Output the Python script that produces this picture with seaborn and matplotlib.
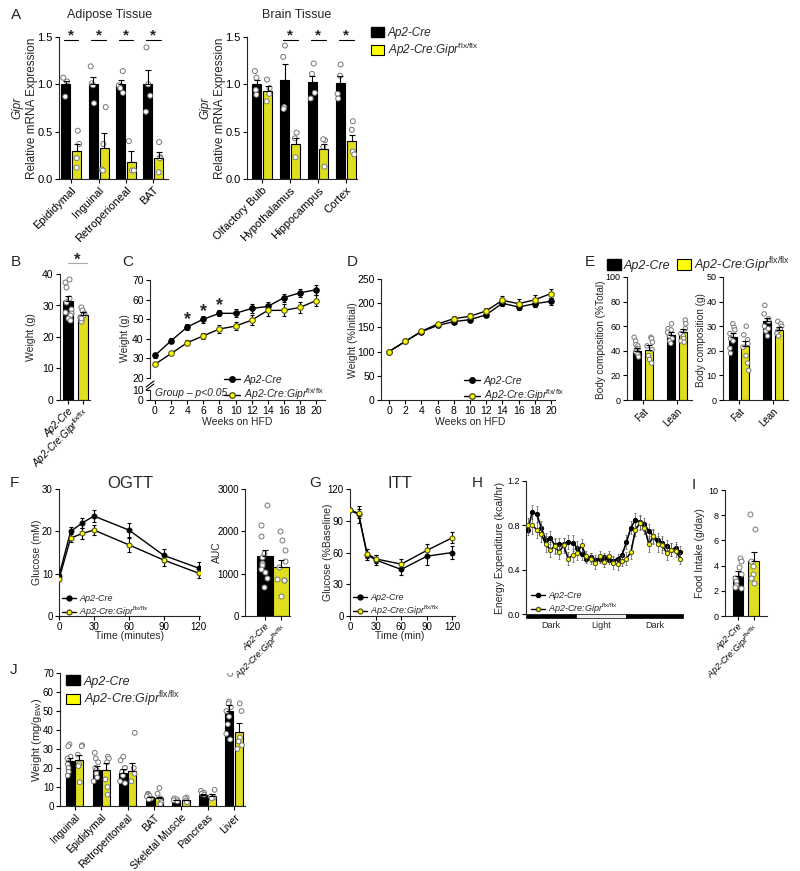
import numpy as np
import pandas as pd
import matplotlib
matplotlib.use("Agg")
import matplotlib.pyplot as plt
import matplotlib.transforms as mtransforms
from matplotlib.lines import Line2D
from matplotlib.patches import Patch, Rectangle
from matplotlib.ticker import FormatStrFormatter
import seaborn as sns

np.random.seed(7)

# ---------------- data ----------------
CRE_LABEL = "Ap2-Cre"
KO_LABEL = "Ap2-Cre:Gipr$^{\\rm flx/flx}$"
GENO = ["Cre", "KO"]
YELLOW = "#FFFF00"
PAL = {"Cre": "black", "KO": YELLOW}

# A - adipose
adipose_cats = ["Epididymal", "Inguinal", "Retroperioneal", "BAT"]
adipose_cre_mean = [1.00, 1.00, 1.00, 1.00]
adipose_cre_sem = [0.04, 0.08, 0.05, 0.15]
adipose_ko_mean = [0.30, 0.33, 0.18, 0.22]
adipose_ko_sem = [0.07, 0.16, 0.12, 0.07]
adipose_cre_pts = [[1.07, 1.03, 0.87], [1.19, 1.01, 0.99, 0.80], [1.14, 0.99, 0.96, 0.91], [1.39, 1.00, 0.88, 0.71]]
adipose_ko_pts = [[0.51, 0.37, 0.22, 0.12], [0.76, 0.37, 0.10, 0.09], [0.40, 0.09, 0.09], [0.39, 0.23, 0.22, 0.07]]

# A - brain
brain_cats = ["Olfactory Bulb", "Hypothalamus", "Hippocampus", "Cortex"]
brain_cre_mean = [1.00, 1.05, 1.02, 1.01]
brain_cre_sem = [0.05, 0.17, 0.07, 0.08]
brain_ko_mean = [0.93, 0.37, 0.32, 0.40]
brain_ko_sem = [0.05, 0.06, 0.05, 0.07]
brain_cre_pts = [[1.14, 1.07, 0.94, 0.89], [1.41, 1.29, 0.76, 0.74], [1.22, 1.11, 0.91, 0.85], [1.21, 1.09, 0.90, 0.85]]
brain_ko_pts = [[1.05, 0.96, 0.90, 0.82], [0.49, 0.43, 0.23], [0.41, 0.42, 0.34, 0.13], [0.61, 0.52, 0.29, 0.26]]

# B - body weight
b_mean = [31.5, 27.0]
b_sem = [1.5, 0.8]
b_cre_pts = [38.5, 37.5, 36.0, 32.5, 31.0, 29.0, 27.5, 27.0, 26.0, 25.5, 28.0]
b_ko_pts = [29.5, 28.5, 27.5, 27.0, 26.5, 25.5, 25.0, 26.0]

# C - weight over time
weeks = [0, 2, 4, 6, 8, 10, 12, 14, 16, 18, 20]
c_cre = [31.5, 39.0, 46.0, 50.0, 53.0, 53.0, 55.5, 56.5, 61.0, 63.5, 65.0]
c_cre_sem = [1.3, 1.3, 1.5, 1.8, 1.5, 2.0, 2.3, 2.5, 2.0, 2.0, 2.5]
c_ko = [27.0, 32.5, 38.0, 41.5, 45.0, 46.5, 49.5, 54.5, 54.5, 56.0, 59.5]
c_ko_sem = [1.0, 1.0, 1.3, 1.5, 2.0, 2.0, 2.5, 3.0, 3.0, 3.0, 3.0]
c_star_weeks = [4, 6, 8]
c_star_y = [47.5, 51.5, 54.5]

# D - % initial weight
d_cre = [100, 121, 141, 154, 162, 166, 176, 200, 192, 199, 204]
d_cre_sem = [2, 3, 4, 4, 5, 5, 5, 6, 6, 7, 7]
d_ko = [100, 121, 142, 157, 168, 173, 184, 206, 199, 207, 220]
d_ko_sem = [2, 3, 4, 5, 6, 7, 7, 8, 9, 10, 10]

# E - body composition
e_cats = ["Fat", "Lean"]
e_pct_cre_mean = [40.0, 53.0]
e_pct_cre_sem = [2.5, 2.0]
e_pct_ko_mean = [41.0, 55.0]
e_pct_ko_sem = [3.5, 2.5]
e_pct_cre_pts = [[51, 48, 45, 44, 42, 41, 39, 37, 35], [62, 58, 57, 55, 52, 50, 48, 46]]
e_pct_ko_pts = [[51, 50, 47, 44, 41, 36, 33, 30], [65, 62, 58, 54, 52, 50, 48, 47]]
e_g_cre_mean = [25.5, 32.0]
e_g_cre_sem = [1.7, 1.5]
e_g_ko_mean = [22.0, 28.5]
e_g_ko_sem = [2.0, 1.0]
e_g_cre_pts = [[31, 29.5, 28.5, 27, 25, 24, 21, 19], [38.5, 35, 33, 32, 30, 28, 26, 29]]
e_g_ko_pts = [[30, 26.5, 24.5, 23, 21.5, 18, 15, 12], [32, 31, 30, 29, 28, 27, 26]]

# F - OGTT
ogtt_t = [0, 10, 20, 30, 60, 90, 120]
ogtt_cre = [9.5, 20.0, 22.0, 23.6, 20.3, 14.3, 11.3]
ogtt_cre_sem = [0.5, 1.0, 1.2, 1.4, 1.6, 1.5, 1.4]
ogtt_ko = [8.7, 18.4, 19.5, 20.3, 16.8, 13.2, 10.1]
ogtt_ko_sem = [0.5, 1.0, 1.3, 1.2, 1.7, 1.5, 1.2]
auc_mean = [1420, 1150]
auc_sem = [150, 170]
auc_cre_pts = [2630, 2160, 1900, 1480, 1260, 1200, 1100, 1050, 900, 680, 1400]
auc_ko_pts = [2000, 1800, 1560, 1300, 1150, 880, 860, 840, 470]

# G - ITT
itt_t = [0, 10, 20, 30, 60, 90, 120]
itt_cre = [100, 96, 58, 53, 44, 56.5, 60]
itt_cre_sem = [0, 8, 5, 5, 5, 8, 6]
itt_ko = [100, 97, 59, 54, 49, 62, 74]
itt_ko_sem = [0, 4, 4, 4, 5, 6, 5]

# H - energy expenditure
ee_idx = list(range(35))
ee_cre = [0.76, 0.92, 0.90, 0.78, 0.67, 0.69, 0.62, 0.63, 0.63, 0.65, 0.64, 0.60, 0.54, 0.50, 0.51, 0.49, 0.50, 0.51,
          0.49, 0.48, 0.50, 0.53, 0.65, 0.78, 0.85, 0.83, 0.81, 0.75, 0.70, 0.67, 0.64, 0.61, 0.58, 0.60, 0.56]
ee_ko = [0.80, 0.80, 0.76, 0.72, 0.63, 0.58, 0.61, 0.56, 0.62, 0.50, 0.53, 0.55, 0.62, 0.52, 0.50, 0.46, 0.52, 0.47,
         0.52, 0.46, 0.45, 0.48, 0.50, 0.56, 0.76, 0.82, 0.78, 0.63, 0.70, 0.63, 0.62, 0.55, 0.58, 0.57, 0.50]
ee_cre_sem = [0.05, 0.06, 0.07, 0.06, 0.06, 0.06, 0.07, 0.06, 0.06, 0.06, 0.07, 0.06, 0.05, 0.04, 0.04, 0.04, 0.04, 0.04,
              0.04, 0.04, 0.04, 0.05, 0.06, 0.06, 0.06, 0.06, 0.06, 0.06, 0.06, 0.06, 0.06, 0.06, 0.06, 0.05, 0.05]
ee_ko_sem = [0.07, 0.08, 0.07, 0.07, 0.07, 0.07, 0.07, 0.06, 0.07, 0.06, 0.06, 0.06, 0.06, 0.05, 0.05, 0.05, 0.05, 0.05,
             0.05, 0.05, 0.05, 0.05, 0.06, 0.06, 0.06, 0.06, 0.06, 0.07, 0.07, 0.07, 0.07, 0.06, 0.06, 0.06, 0.05]
ee_phase = ["Dark", "Light", "Dark"]
ee_phase_bounds = [-0.4, 10.8, 21.9, 34.6]

# I - food intake
i_mean = [3.2, 4.4]
i_sem = [0.4, 0.7]
i_cre_pts = [4.6, 4.4, 3.9, 3.3, 3.0, 2.8, 2.5, 2.3, 2.2]
i_ko_pts = [8.1, 6.9, 4.4, 4.0, 3.3, 3.0, 2.6]

# J - tissue weights
j_cats = ["Inguinal", "Epididymal", "Retroperitoneal", "BAT", "Skeletal Muscle", "Pancreas", "Liver"]
j_cre_mean = [23.5, 19.0, 17.5, 4.5, 3.0, 6.0, 50.0]
j_cre_sem = [2.0, 1.8, 2.0, 0.5, 0.3, 0.5, 3.0]
j_ko_mean = [24.0, 19.0, 18.5, 4.0, 3.0, 5.5, 39.0]
j_ko_sem = [3.0, 3.5, 4.0, 1.0, 0.4, 0.8, 4.5]
j_cre_pts = [[32.5, 31.5, 26, 25, 22, 20, 18, 16], [28, 25, 23, 20, 19, 17, 15, 13], [26, 24, 20, 20, 18, 16, 13, 12],
             [6.5, 6, 5.5, 5, 4, 3.5], [4, 3.5, 3, 2.5], [8, 7, 6.5, 6], [69.5, 55, 54, 52, 50, 47, 43, 38, 35]]
j_ko_pts = [[32, 31.5, 27, 22, 21, 12.5], [26, 25, 23, 14, 10, 6], [38.5, 20, 17, 13], [9.5, 6.5, 4, 2, 1],
            [4.5, 4, 3, 2], [8.5, 5, 4.5, 4], [54, 50, 36, 34, 32, 30]]

# ---------------- style ----------------
sns.set_style("ticks")
plt.rcParams["font.family"] = ["Liberation Sans", "DejaVu Sans"]
plt.rcParams["mathtext.fontset"] = "custom"
plt.rcParams["mathtext.rm"] = "Liberation Sans"
plt.rcParams["mathtext.it"] = "Liberation Sans:italic"
plt.rcParams["mathtext.bf"] = "Liberation Sans:bold"
plt.rcParams["axes.linewidth"] = 0.8

W, H = 800, 871
fig = plt.figure(figsize=(W / 100, H / 100), dpi=100)


def pax(l, t, r, b, ts=7.5):
    ax = fig.add_axes([l / W, 1 - b / H, (r - l) / W, (b - t) / H])
    sns.despine(ax=ax)
    ax.tick_params(direction="out", length=3, width=0.8, pad=1.5, labelsize=ts, colors="black")
    ax.set_facecolor("none")
    return ax


def ftext(x, y, s, **kw):
    kw.setdefault("ha", "center")
    kw.setdefault("va", "center")
    return fig.text(x / W, 1 - y / H, s, **kw)


def fleg(ax, handles, labels, x, y, size, **kw):
    return ax.legend(handles, labels, loc="upper left", bbox_to_anchor=(x / W, 1 - y / H),
                     bbox_transform=fig.transFigure, frameon=False, borderaxespad=0, borderpad=0,
                     prop={"style": "italic", "size": size}, **kw)


def grouped_bars(ax, cats, cm, ce, km, ke, cpts, kpts, width=0.8, gap=0.18, size=3.6, jitter=0.2):
    n = len(cats)
    df = pd.DataFrame({"cat": list(cats) * 2, "geno": ["Cre"] * n + ["KO"] * n, "val": list(cm) + list(km)})
    sns.barplot(data=df, x="cat", y="val", hue="geno", order=cats, hue_order=GENO, palette=PAL,
                width=width, gap=gap, edgecolor="black", linewidth=0.8, errorbar=None, legend=False,
                ax=ax, zorder=1)
    for p, e in zip(ax.patches, list(ce) + list(ke)):
        xc = p.get_x() + p.get_width() / 2
        ax.errorbar(xc, p.get_height(), yerr=[[0], [e]], fmt="none", ecolor="black",
                    elinewidth=0.8, capsize=2, capthick=0.8, zorder=3)
    rows = []
    for c, pts in zip(cats, cpts):
        rows += [(c, "Cre", v) for v in pts]
    for c, pts in zip(cats, kpts):
        rows += [(c, "KO", v) for v in pts]
    pdf = pd.DataFrame(rows, columns=["cat", "geno", "val"])
    sns.stripplot(data=pdf, x="cat", y="val", hue="geno", order=cats, hue_order=GENO, dodge=True,
                  jitter=jitter, palette={"Cre": "white", "KO": "white"}, edgecolor="#777777",
                  linewidth=0.7, size=size, legend=False, ax=ax, zorder=2)
    ax.set_xlabel("")
    ax.set_ylabel("")


def pair_bars(ax, means, sems, cpts, kpts, width=0.67, size=3.6, jitter=0.25):
    cats = ["Cre", "KO"]
    df = pd.DataFrame({"cat": cats, "val": means})
    sns.barplot(data=df, x="cat", y="val", hue="cat", order=cats, hue_order=cats, palette=PAL,
                width=width, edgecolor="black", linewidth=0.8, errorbar=None, legend=False, ax=ax, zorder=1)
    for p, e in zip(ax.patches, sems):
        xc = p.get_x() + p.get_width() / 2
        ax.errorbar(xc, p.get_height(), yerr=[[0], [e]], fmt="none", ecolor="black",
                    elinewidth=0.8, capsize=2, capthick=0.8, zorder=3)
    rows = [("Cre", v) for v in cpts] + [("KO", v) for v in kpts]
    pdf = pd.DataFrame(rows, columns=["cat", "val"])
    sns.stripplot(data=pdf, x="cat", y="val", order=cats, color="white", edgecolor="#777777",
                  linewidth=0.7, size=size, jitter=jitter, ax=ax, zorder=2)
    ax.set_xlabel("")
    ax.set_ylabel("")
    ax.set_xticks([0, 1])


def two_lines(ax, x, cm, ce, km, ke, ms=4.0, lw=1.0, cap=1.5, elw=0.8, ecol="black"):
    ax.errorbar(x, cm, yerr=ce, fmt="none", ecolor=ecol, elinewidth=elw, capsize=cap, capthick=elw, zorder=2)
    sns.lineplot(x=x, y=cm, color="black", lw=lw, marker="o", markersize=ms, markerfacecolor="black",
                 markeredgecolor="black", ax=ax, zorder=3)
    ax.errorbar(x, km, yerr=ke, fmt="none", ecolor=ecol, elinewidth=elw, capsize=cap, capthick=elw, zorder=4)
    sns.lineplot(x=x, y=km, color="black", lw=lw, marker="o", markersize=ms, markerfacecolor=YELLOW,
                 markeredgecolor="#555522", markeredgewidth=0.8, ax=ax, zorder=5)
    ax.set_xlabel("")
    ax.set_ylabel("")


def line_handles(ms=4.0):
    h1 = Line2D([], [], color="black", lw=1.0, marker="o", ms=ms, mfc="black", mec="black")
    h2 = Line2D([], [], color="black", lw=1.0, marker="o", ms=ms, mfc=YELLOW, mec="#555522")
    return [h1, h2]


def bar_handles():
    return [Patch(facecolor="black", edgecolor="black"), Patch(facecolor=YELLOW, edgecolor="black", lw=0.8)]


def sig(ax, x, y, half=0.27, fs=11, color="black"):
    ax.plot([x - half, x + half], [y, y], color=color, lw=0.8, clip_on=False)
    ax.text(x, y, "*", ha="center", va="baseline", fontsize=fs, fontweight="bold", clip_on=False)


# ---------------- A ----------------
ftext(16, 15, "A", fontsize=11)
axA1 = pax(59, 37, 168, 179, ts=8)
grouped_bars(axA1, adipose_cats, adipose_cre_mean, adipose_cre_sem, adipose_ko_mean, adipose_ko_sem,
             adipose_cre_pts, adipose_ko_pts)
axA1.set_ylim(0, 1.5)
axA1.set_yticks([0, 0.5, 1.0, 1.5])
axA1.yaxis.set_major_formatter(FormatStrFormatter("%.1f"))
axA1.set_xlim(-0.44, 3.53)
axA1.set_xticks(range(4))
axA1.set_xticklabels(adipose_cats, rotation=45, ha="right", rotation_mode="anchor", fontsize=8)
for i in range(4):
    sig(axA1, i, 1.47)
ftext(110, 15, "Adipose Tissue", fontsize=9)
ftext(32, 108, "Relative mRNA Expression", rotation=90, fontsize=8.5)
ftext(17, 108, "Gipr", rotation=90, fontsize=8.5, style="italic")

axA2 = pax(247, 37, 357, 179, ts=8)
grouped_bars(axA2, brain_cats, brain_cre_mean, brain_cre_sem, brain_ko_mean, brain_ko_sem,
             brain_cre_pts, brain_ko_pts)
axA2.set_ylim(0, 1.5)
axA2.set_yticks([0, 0.5, 1.0, 1.5])
axA2.yaxis.set_major_formatter(FormatStrFormatter("%.1f"))
axA2.set_xlim(-0.54, 3.39)
axA2.set_xticks(range(4))
axA2.set_xticklabels(brain_cats, rotation=45, ha="right", rotation_mode="anchor", fontsize=8)
for i in range(1, 4):
    sig(axA2, i, 1.47)
ftext(297, 15, "Brain Tissue", fontsize=9)
ftext(220, 108, "Relative mRNA Expression", rotation=90, fontsize=8.5)
ftext(205, 108, "Gipr", rotation=90, fontsize=8.5, style="italic")
fleg(axA2, bar_handles(), [CRE_LABEL, KO_LABEL], 371, 27, 8.5, handlelength=1.1, handleheight=0.9,
     handletextpad=0.3, labelspacing=0.15)

# ---------------- B ----------------
ftext(16, 262, "B", fontsize=11)
axB = pax(60, 274, 90, 400, ts=7.5)
pair_bars(axB, b_mean, b_sem, b_cre_pts, b_ko_pts)
axB.set_ylim(0, 40)
axB.set_yticks([0, 10, 20, 30, 40])
axB.set_xlim(-0.53, 1.5)
axB.set_xticklabels([CRE_LABEL, KO_LABEL], rotation=45, ha="right", rotation_mode="anchor",
                    fontsize=7, style="italic")
axB.plot([0.0, 1.3], [43.5, 43.5], color="#aaaaaa", lw=0.8, clip_on=False)
axB.text(0.65, 43.0, "*", ha="center", va="baseline", fontsize=12, fontweight="bold")
ftext(31, 337, "Weight (g)", rotation=90, fontsize=7.5)

# ---------------- C ----------------
ftext(128, 262, "C", fontsize=11)
axC = pax(150, 280, 325, 378, ts=7.5)
axC2 = pax(150, 390, 325, 400, ts=7.5)
two_lines(axC, weeks, c_cre, c_cre_sem, c_ko, c_ko_sem)
axC.set_ylim(20, 70)
axC.set_yticks([20, 30, 40, 50, 60, 70])
axC.set_xlim(-0.62, 21.1)
axC.spines["bottom"].set_visible(False)
axC.tick_params(axis="x", bottom=False, labelbottom=False)
axC2.set_xlim(-0.62, 21.1)
axC2.set_ylim(0, 10)
axC2.set_yticks([0, 10])
axC2.set_xticks(weeks)
for wk, yy in zip(c_star_weeks, c_star_y):
    axC.text(wk, yy, "*", ha="center", va="baseline", fontsize=13, fontweight="bold")
for dy in (0, 3):
    fig.add_artist(Line2D([146 / W, 154 / W], [1 - (387 + dy) / H, 1 - (381 + dy) / H], color="black", lw=0.8))
ftext(155, 393, "Group – p<0.05", fontsize=7.5, style="italic", ha="left")
fleg(axC, line_handles(), [CRE_LABEL, KO_LABEL], 224, 375, 7.5, handlelength=1.5, handletextpad=0.4,
     labelspacing=0.15)
ftext(237, 422, "Weeks on HFD", fontsize=7.5)
ftext(125, 338, "Weight (g)", rotation=90, fontsize=7.5)

# ---------------- D ----------------
ftext(352, 262, "D", fontsize=11)
axD = pax(381, 279, 555, 400, ts=7.5)
two_lines(axD, weeks, d_cre, d_cre_sem, d_ko, d_ko_sem)
axD.set_ylim(0, 250)
axD.set_yticks([0, 50, 100, 150, 200, 250])
axD.set_xlim(-0.99, 20.5)
axD.set_xticks(weeks)
fleg(axD, line_handles(), [CRE_LABEL, KO_LABEL], 464, 376, 7.5, handlelength=1.5, handletextpad=0.4,
     labelspacing=0.15)
ftext(470, 422, "Weeks on HFD", fontsize=7.5)
ftext(353, 340, "Weight (%Initial)", rotation=90, fontsize=7.5)

# ---------------- E ----------------
ftext(590, 262, "E", fontsize=11)
axE1 = pax(627, 277, 692, 400, ts=6.5)
grouped_bars(axE1, e_cats, e_pct_cre_mean, e_pct_cre_sem, e_pct_ko_mean, e_pct_ko_sem,
             e_pct_cre_pts, e_pct_ko_pts, width=0.72, gap=0.3, size=3.2, jitter=0.18)
axE1.set_ylim(0, 100)
axE1.set_yticks([0, 20, 40, 60, 80, 100])
axE1.set_xlim(-0.47, 1.44)
axE1.set_xticks([0, 1])
axE1.set_xticklabels(e_cats, rotation=45, ha="right", rotation_mode="anchor", fontsize=7)
ftext(601, 340, "Body composition (%Total)", rotation=90, fontsize=7.2)

axE2 = pax(723, 277, 788, 400, ts=6.5)
grouped_bars(axE2, e_cats, e_g_cre_mean, e_g_cre_sem, e_g_ko_mean, e_g_ko_sem,
             e_g_cre_pts, e_g_ko_pts, width=0.72, gap=0.3, size=3.2, jitter=0.18)
axE2.set_ylim(0, 50)
axE2.set_yticks([0, 10, 20, 30, 40, 50])
axE2.set_xlim(-0.47, 1.44)
axE2.set_xticks([0, 1])
axE2.set_xticklabels(e_cats, rotation=45, ha="right", rotation_mode="anchor", fontsize=7)
ftext(701, 340, "Body composition (g)", rotation=90, fontsize=7.2)
fleg(axE1, bar_handles(), [CRE_LABEL, KO_LABEL], 607, 255, 9, ncol=2, handlelength=1.1, handleheight=0.9,
     handletextpad=0.2, columnspacing=0.6)

# ---------------- F ----------------
ftext(14, 483, "F", fontsize=11)
ftext(130, 483, "OGTT", fontsize=12)
axF = pax(59, 489, 200, 616, ts=7)
two_lines(axF, ogtt_t, ogtt_cre, ogtt_cre_sem, ogtt_ko, ogtt_ko_sem, ms=3.5)
axF.set_ylim(0, 30)
axF.set_yticks([0, 10, 20, 30])
axF.set_xlim(0, 121)
axF.set_xticks([0, 30, 60, 90, 120])
fleg(axF, line_handles(3.5), [CRE_LABEL, KO_LABEL], 62, 594, 6.5, handlelength=1.5, handletextpad=0.4,
     labelspacing=0.15)
ftext(130, 636, "Time (minutes)", fontsize=7.5)
ftext(37, 552, "Glucose (mM)", rotation=90, fontsize=7.5)

axAUC = pax(245, 489, 290, 616, ts=7)
pair_bars(axAUC, auc_mean, auc_sem, auc_cre_pts, auc_ko_pts, width=0.95, jitter=0.25)
axAUC.set_ylim(0, 3000)
axAUC.set_yticks([0, 1000, 2000, 3000])
axAUC.set_xlim(-1.25, 1.56)
axAUC.set_xticklabels([CRE_LABEL, KO_LABEL], rotation=45, ha="right", rotation_mode="anchor",
                      fontsize=6.5, style="italic")
ftext(217, 552, "AUC", rotation=90, fontsize=7.5)

# ---------------- G ----------------
ftext(315, 483, "G", fontsize=11)
ftext(400, 483, "ITT", fontsize=12)
axG = pax(350, 489, 455, 616, ts=7)
two_lines(axG, itt_t, itt_cre, itt_cre_sem, itt_ko, itt_ko_sem, ms=3.5)
axG.set_ylim(0, 120)
axG.set_yticks([0, 30, 60, 90, 120])
axG.set_xlim(0, 123)
axG.set_xticks([0, 30, 60, 90, 120])
fleg(axG, line_handles(3.5), [CRE_LABEL, KO_LABEL], 353, 593, 6.5, handlelength=1.5, handletextpad=0.4,
     labelspacing=0.15)
ftext(400, 636, "Time (min)", fontsize=7.5)
ftext(328, 552, "Glucose (%Baseline)", rotation=90, fontsize=7.5)

# ---------------- H ----------------
ftext(477, 483, "H", fontsize=11)
axH = pax(526, 481, 683, 614, ts=6.5)
two_lines(axH, ee_idx, ee_cre, ee_cre_sem, ee_ko, ee_ko_sem, ms=3.0, lw=1.2, cap=0.8, elw=0.5, ecol="#555555")
axH.set_ylim(0, 1.2)
axH.set_yticks([0, 0.4, 0.8, 1.2])
axH.yaxis.set_major_formatter(FormatStrFormatter("%.1f"))
axH.set_xlim(-0.4, 34.6)
axH.spines["bottom"].set_visible(False)
axH.tick_params(axis="x", bottom=False, labelbottom=False)
trH = mtransforms.blended_transform_factory(axH.transData, axH.transAxes)
for (x0, x1), ph in zip(zip(ee_phase_bounds[:-1], ee_phase_bounds[1:]), ee_phase):
    fc = "black" if ph == "Dark" else "#eeeeee"
    axH.add_patch(Rectangle((x0, -0.028), x1 - x0, 0.028, transform=trH, facecolor=fc, edgecolor="black",
                            lw=0.5, clip_on=False))
    axH.text((x0 + x1) / 2, -0.055, ph, transform=trH, ha="center", va="top", fontsize=6.5)
fleg(axH, line_handles(3.0), [CRE_LABEL, KO_LABEL], 531, 591, 6.5, handlelength=1.5, handletextpad=0.4,
     labelspacing=0.15)
ftext(500, 548, "Energy Expenditure (kcal/hr)", rotation=90, fontsize=7.5)

# ---------------- I ----------------
ftext(694, 485, "I", fontsize=11)
axI = pax(725, 490, 767, 616, ts=6.5)
pair_bars(axI, i_mean, i_sem, i_cre_pts, i_ko_pts, width=0.65, jitter=0.22)
axI.set_ylim(0, 10)
axI.set_yticks([0, 2, 4, 6, 8, 10])
axI.set_xlim(-0.84, 1.87)
axI.set_xticklabels([CRE_LABEL, KO_LABEL], rotation=45, ha="right", rotation_mode="anchor",
                    fontsize=6.5, style="italic")
ftext(700, 553, "Food Intake (g/day)", rotation=90, fontsize=7.5)

# ---------------- J ----------------
ftext(14, 670, "J", fontsize=11)
axJ = pax(60, 673, 245, 806, ts=7)
grouped_bars(axJ, j_cats, j_cre_mean, j_cre_sem, j_ko_mean, j_ko_sem, j_cre_pts, j_ko_pts,
             width=0.7, gap=0.15, size=3.4, jitter=0.2)
axJ.set_ylim(0, 70)
axJ.set_yticks([0, 10, 20, 30, 40, 50, 60, 70])
axJ.set_xlim(-0.55, 6.41)
axJ.set_xticks(range(7))
axJ.set_xticklabels(j_cats, rotation=45, ha="right", rotation_mode="anchor", fontsize=7.5)
fleg(axJ, bar_handles(), [CRE_LABEL, KO_LABEL], 66, 675, 9, handlelength=1.1, handleheight=0.9,
     handletextpad=0.3, labelspacing=0.15)
ftext(37, 740, "Weight (mg/g$_{\\rm BW}$)", rotation=90, fontsize=8)

fig.savefig("out.png", dpi=100)
